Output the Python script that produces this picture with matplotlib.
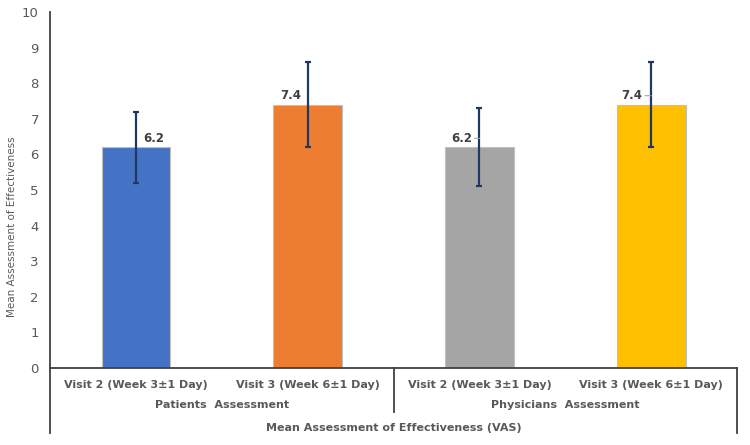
import matplotlib
matplotlib.use("Agg")
import matplotlib.pyplot as plt
from matplotlib.lines import Line2D

# data
visits = ["Visit 2 (Week 3±1 Day)", "Visit 3 (Week 6±1 Day)",
          "Visit 2 (Week 3±1 Day)", "Visit 3 (Week 6±1 Day)"]
groups = ["Patients  Assessment", "Physicians  Assessment"]
outer_label = "Mean Assessment of Effectiveness (VAS)"
means = [6.2, 7.4, 6.2, 7.4]
errors = [1.0, 1.2, 1.1, 1.2]
colors = ["#4472C4", "#ED7D31", "#A5A5A5", "#FFC000"]

# label offsets (points) relative to the bar top
label_dx = [13, -12, -13, -14]
label_leader = [False, False, True, True]

txt = "#595959"
axis_col = "#404040"

fig = plt.figure(figsize=(7.5, 4.45), dpi=100)
ax = fig.add_axes([0.0667, 0.173, 0.916, 0.80])

x = list(range(len(means)))
ax.bar(x, means, width=0.4, color=colors, edgecolor="#BFBFBF", linewidth=0.8, zorder=2)
ax.errorbar(x, means, yerr=errors, fmt="none", ecolor="#1F3864",
            elinewidth=1.6, capsize=2.5, capthick=1.6, zorder=3)

for xi, m, dx, lead in zip(x, means, label_dx, label_leader):
    props = dict(arrowstyle="-", color="#A6A6A6", lw=0.8,
                 shrinkA=0, shrinkB=0) if lead else None
    ax.annotate(f"{m}", xy=(xi, m + 0.25), xytext=(dx, 0),
                textcoords="offset points", ha="center", va="center",
                fontsize=8.5, fontweight="bold", color="#404040",
                arrowprops=props, zorder=4)

ax.set_xlim(-0.5, 3.5)
ax.set_ylim(0, 10)
ax.set_yticks(range(0, 11))
ax.tick_params(axis="y", length=0, labelsize=9.5, labelcolor=txt, pad=8)
ax.tick_params(axis="x", length=0)
ax.set_xticks([])
fig.text(0.016, 0.49, "Mean Assessment of Effectiveness", rotation=90,
         ha="center", va="center", fontsize=7.5, color=txt)

for s in ["top", "right"]:
    ax.spines[s].set_visible(False)
for s in ["left", "bottom"]:
    ax.spines[s].set_color(axis_col)
    ax.spines[s].set_linewidth(1.3)

# multi-level category axis
trans = ax.get_xaxis_transform()
for xi, lab in zip(x, visits):
    ax.text(xi, -0.048, lab, transform=trans, ha="center", va="center",
            fontsize=8, fontweight="bold", color=txt)
for gi, g in enumerate(groups):
    ax.text(0.5 + 2 * gi, -0.104, g, transform=trans, ha="center", va="center",
            fontsize=8, fontweight="bold", color=txt)
ax.text(1.5, -0.169, outer_label, transform=trans, ha="center", va="center",
        fontsize=8, fontweight="bold", color=txt)

for xv, y0 in [(-0.5, -0.183), (1.5, -0.124), (3.5, -0.183)]:
    ax.add_line(Line2D([xv, xv], [0, y0], transform=trans, color=axis_col,
                       lw=1.3, clip_on=False))

fig.savefig("out.png", dpi=100)
